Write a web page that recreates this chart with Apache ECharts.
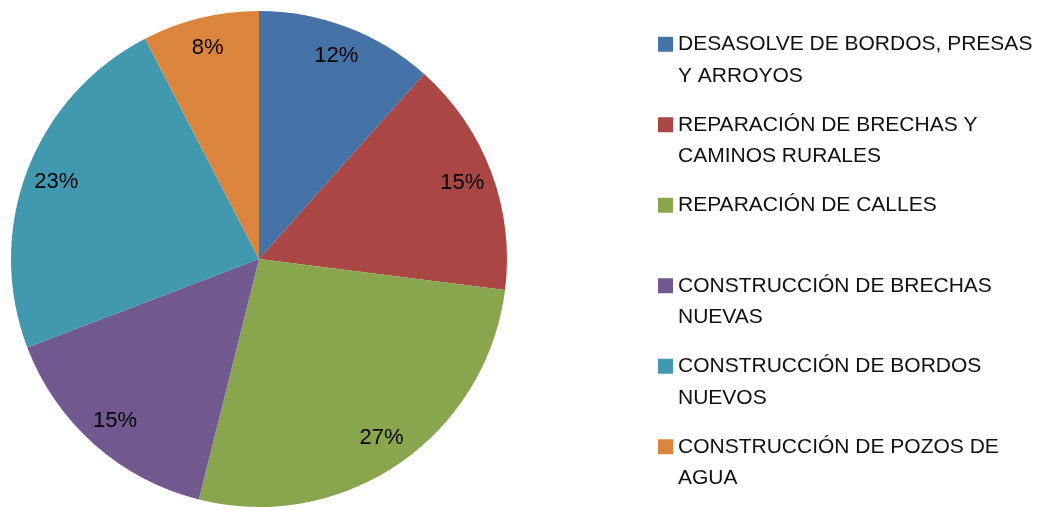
<!DOCTYPE html>
<html>
<head>
<meta charset="utf-8">
<script src="https://cdn.jsdelivr.net/npm/echarts@6/dist/echarts.min.js"></script>
<style>
  html, body { margin: 0; padding: 0; background: #fff; }
  #chart { width: 1041px; height: 510px; }
</style>
</head>
<body>
<div id="chart"></div>
<script>
  // data
  var categories = [
    'DESASOLVE DE BORDOS, PRESAS Y ARROYOS',
    'REPARACIÓN DE BRECHAS Y CAMINOS RURALES',
    'REPARACIÓN DE CALLES',
    'CONSTRUCCIÓN DE BRECHAS NUEVAS',
    'CONSTRUCCIÓN DE BORDOS NUEVOS',
    'CONSTRUCCIÓN DE POZOS DE AGUA'
  ]
  var shares = [11.6, 15.4, 26.9, 15.3, 23.2, 7.6]
  // legend text as it wraps in the picture
  var legendText = [
    ['DESASOLVE DE BORDOS, PRESAS', 'Y ARROYOS'],
    ['REPARACIÓN DE BRECHAS Y', 'CAMINOS RURALES'],
    ['REPARACIÓN DE CALLES', ' '],
    ['CONSTRUCCIÓN DE BRECHAS', 'NUEVAS'],
    ['CONSTRUCCIÓN DE BORDOS', 'NUEVOS'],
    ['CONSTRUCCIÓN DE POZOS DE', 'AGUA']
  ]
  var colors = ['#4572A7', '#AA4643', '#89A54E', '#71588F', '#4198AF', '#DB843D']

  var pieData = []
  for (var i = 0; i < categories.length; i++) {
    pieData.push({ name: categories[i], value: shares[i] })
  }

  var myChart = echarts.init(document.getElementById('chart'))
  myChart.setOption({
    animation: false,
    color: colors,
    legend: {
      orient: 'vertical',
      left: 658,
      top: -3,
      padding: 0,
      itemWidth: 15,
      itemHeight: 15,
      itemGap: -14,
      icon: 'rect',
      data: categories,
      // blank line on top so the square sits beside the first line
      formatter: function (name) {
        var t = legendText[categories.indexOf(name)]
        return ' \n' + t[0] + '\n' + t[1]
      },
      textStyle: {
        fontFamily: 'Liberation Sans',
        fontSize: 21,
        color: '#111',
        lineHeight: 31.5
      }
    },
    series: [
      {
        type: 'pie',
        center: [259, 259],
        radius: [0, 248],
        startAngle: 90,
        clockwise: true,
        silent: true,
        label: { show: false },
        labelLine: { show: false },
        data: pieData
      },
      {
        // label ring, only here to place the percentages near the rim
        type: 'pie',
        center: [259, 259],
        radius: [178, 250],
        startAngle: 90,
        clockwise: true,
        silent: true,
        percentPrecision: 0,
        itemStyle: { color: 'rgba(0,0,0,0)' },
        label: {
          show: true,
          position: 'inside',
          formatter: '{d}%',
          fontFamily: 'Liberation Sans',
          fontSize: 22,
          color: '#000'
        },
        labelLine: { show: false },
        data: pieData
      }
    ]
  })
</script>
</body>
</html>
